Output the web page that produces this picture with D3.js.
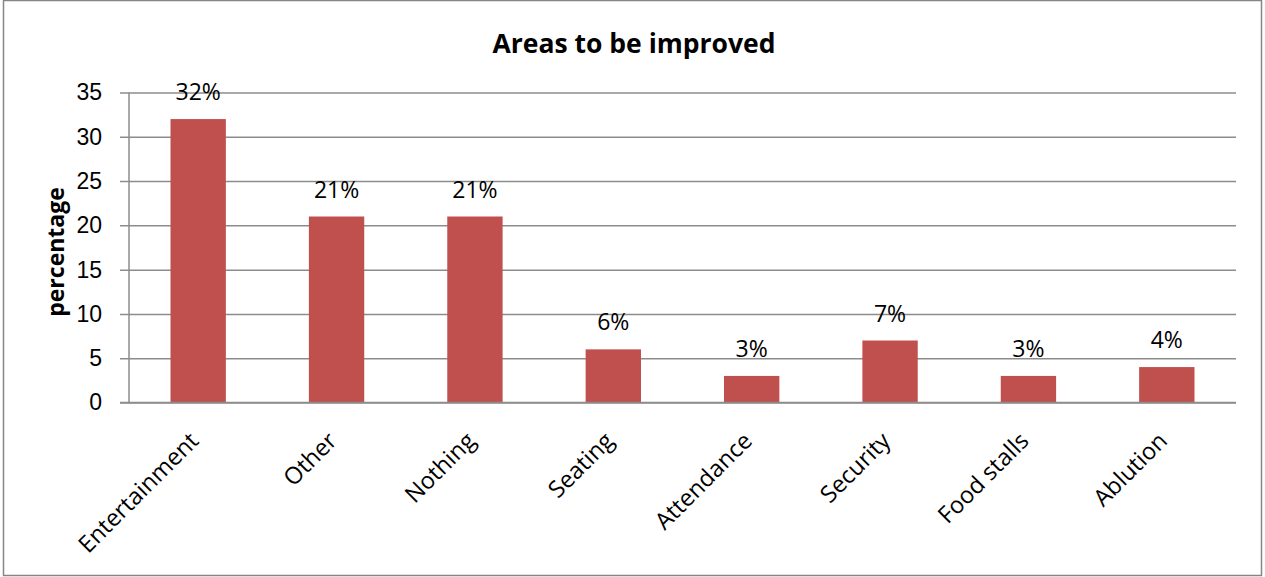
<!DOCTYPE html>
<html>
<head>
<meta charset="utf-8">
<script src="https://cdn.jsdelivr.net/npm/d3@7/dist/d3.min.js"></script>
<style>
  html, body { margin: 0; padding: 0; background: #fff; }
  svg { display: block; font-family: "Open Sans", "Noto Sans", sans-serif; }
</style>
</head>
<body>
<svg id="chart" width="1265" height="577"></svg>
<script>
// Survey responses: which areas should be improved
const categories = ["Entertainment", "Other", "Nothing", "Seating", "Attendance", "Security", "Food stalls", "Ablution"];
const values = [32, 21, 21, 6, 3, 7, 3, 4];
const yTicks = [0, 5, 10, 15, 20, 25, 30, 35];
const title = "Areas to be improved";
const yTitle = "percentage";

const plot = { left: 129, right: 1236, top: 92.5, bottom: 402.5 };

const svg = d3.select("#chart");

// outer chart frame
svg.append("rect")
  .attr("x", 3.5).attr("y", 0.5)
  .attr("width", 1258).attr("height", 575)
  .attr("fill", "#fff").attr("stroke", "#868686").attr("stroke-width", 1.5);

const x = d3.scaleBand()
  .domain(categories)
  .range([plot.left, plot.right])
  .paddingInner(0.6)
  .paddingOuter(0.3);

const y = d3.scaleLinear()
  .domain([0, 35])
  .range([plot.bottom, plot.top]);

// horizontal gridlines + y axis
const yAxis = d3.axisLeft(y)
  .tickValues(yTicks)
  .tickSize(-(plot.right - plot.left))
  .tickSizeOuter(0)
  .tickPadding(27)
  .tickFormat(d3.format("d"));

const gy = svg.append("g")
  .attr("transform", `translate(${plot.left},0)`)
  .call(yAxis);
gy.select(".domain").remove();
gy.selectAll(".tick line")
  .attr("x1", -9)
  .attr("stroke", "#8c8c8c").attr("stroke-width", 1.5);
gy.selectAll(".tick text")
  .attr("fill", "#000")
  .style("font-size", "23px");

// vertical axis line
svg.append("line")
  .attr("x1", plot.left).attr("x2", plot.left)
  .attr("y1", plot.top).attr("y2", plot.bottom)
  .attr("stroke", "#8c8c8c").attr("stroke-width", 1.5);

// bars
svg.append("g").selectAll("rect")
  .data(values)
  .join("rect")
  .attr("x", (d, i) => x(categories[i]))
  .attr("width", x.bandwidth())
  .attr("y", d => y(d))
  .attr("height", d => y(0) - y(d))
  .attr("fill", "#C0504D");

// baseline drawn over the bars
svg.append("line")
  .attr("x1", plot.left - 9).attr("x2", plot.right)
  .attr("y1", plot.bottom).attr("y2", plot.bottom)
  .attr("stroke", "#8c8c8c").attr("stroke-width", 1.5);

// value labels
svg.append("g").selectAll("text")
  .data(values)
  .join("text")
  .attr("x", (d, i) => x(categories[i]) + x.bandwidth() / 2)
  .attr("y", d => y(d) - 19)
  .attr("text-anchor", "middle")
  .style("font-size", "23px")
  .attr("fill", "#000")
  .text(d => d + "%");

// category labels, rotated
svg.append("g").selectAll("text")
  .data(categories)
  .join("text")
  .attr("transform", c => `translate(${x(c) + x.bandwidth() / 2 - 4},${plot.bottom + 34}) rotate(-45)`)
  .attr("text-anchor", "end")
  .attr("dy", "0.35em")
  .style("font-size", "23.5px")
  .attr("fill", "#000")
  .text(c => c);

// chart title
svg.append("text")
  .attr("x", 634).attr("y", 53)
  .attr("text-anchor", "middle")
  .style("font-size", "26.5px")
  .style("font-weight", "bold")
  .attr("fill", "#000")
  .text(title);

// y axis title
svg.append("text")
  .attr("transform", `translate(64,252) rotate(-90)`)
  .attr("text-anchor", "middle")
  .style("font-size", "23px")
  .style("font-weight", "bold")
  .attr("fill", "#000")
  .text(yTitle);
</script>
</body>
</html>
